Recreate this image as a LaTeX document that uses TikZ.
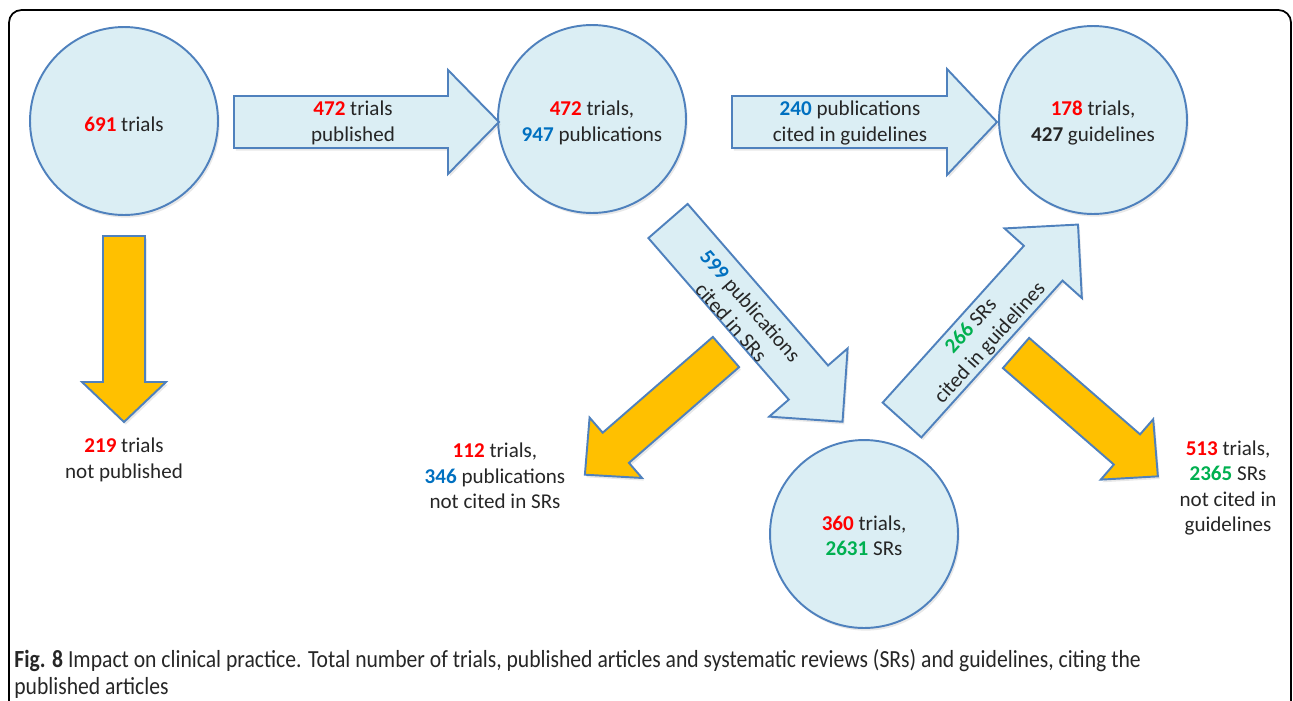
\documentclass[tikz,border=0pt]{standalone}
\usepackage{fontspec}
\setmainfont{Carlito}
\newfontfamily\capfont[FakeStretch=0.88]{Carlito}
\usetikzlibrary{shadows}

\definecolor{paleblue}{HTML}{DBEEF4}
\definecolor{edgeblue}{HTML}{4F81BD}
\definecolor{amber}{HTML}{FFC000}
\definecolor{numred}{HTML}{FF0000}
\definecolor{numblue}{HTML}{0070C0}
\definecolor{numgreen}{HTML}{00B050}

\newcommand{\nred}[1]{\textcolor{numred}{\textbf{#1}}}
\newcommand{\nblue}[1]{\textcolor{numblue}{\textbf{#1}}}
\newcommand{\ngreen}[1]{\textcolor{numgreen}{\textbf{#1}}}

% block arrow: style, tail, angle, length, half shaft, half head, head length
\newcommand{\blockarrow}[7]{%
  \begin{scope}[shift={#2},rotate=#3]
    \draw[#1] (0,-#5) -- ({#4-#7},-#5) -- ({#4-#7},-#6) -- (#4,0)
      -- ({#4-#7},#6) -- ({#4-#7},#5) -- (0,#5) -- cycle;
  \end{scope}}

\tikzset{
  softshadow/.style={drop shadow={opacity=0.18,shadow xshift=1pt,shadow yshift=-1.5pt}},
  disc/.style={circle, draw=edgeblue, fill=paleblue, line width=1.1pt,
    minimum size=3.76cm, inner sep=0pt, softshadow},
  bluearrow/.style={draw=edgeblue, fill=paleblue, line width=1.1pt, line join=miter, softshadow},
  amberarrow/.style={draw=edgeblue, fill=amber, line width=1.1pt, line join=miter, softshadow},
  txt/.style={align=center, text=black!85, inner sep=0pt,
    font=\fontsize{12}{14.4}\selectfont},
}

\begin{document}
\begin{tikzpicture}[x=0.02cm,y=-0.02cm]
\useasboundingbox (0,0) rectangle (1293,700);
\draw[line width=1pt, rounded corners=0.25cm] (9,730) -- (9,10) -- (1291,10) -- (1291,730);

% the four stages
\node[disc] (trials) at (124,121) {};
\node[disc] (pubs) at (592,119) {};
\node[disc] (guides) at (1093,120) {};
\node[disc] (srs) at (864,534) {};

% arrow tails
\coordinate (t1) at (234,122);
\coordinate (t2) at (732,122);
\coordinate (t3) at (668,221);
\coordinate (t4) at (902,420);
\coordinate (y1) at (124,236);
\coordinate (y2) at (726,352);
\coordinate (y3) at (1016,353);

\blockarrow{bluearrow}{(t1)}{0}{265}{26}{52}{51}
\blockarrow{bluearrow}{(t2)}{0}{265}{26}{53}{50}
\blockarrow{bluearrow}{(t3)}{-49}{266}{26}{52}{52}
\blockarrow{bluearrow}{(t4)}{48}{263}{26}{52}{52}
\blockarrow{amberarrow}{(y1)}{-90}{186}{21}{42}{40}
\blockarrow{amberarrow}{(y2)}{-139}{187}{20}{40}{41}
\blockarrow{amberarrow}{(y3)}{-41}{188}{20}{40}{41}

% texts
\node[txt] (trialsT) at (124,124) {\nred{691} trials};
\node[txt] (pubsT) at (592,123) {\nred{472} trials,\\\nblue{947} publications};
\node[txt] (guidesT) at (1093,123) {\nred{178} trials,\\\textbf{427} guidelines};
\node[txt] (srsT) at (864,536) {\nred{360} trials,\\\ngreen{2631} SRs};

\node[txt] (pubd) at (353,123) {\nred{472} trials\\published};
\node[txt] (cited) at (850,123) {\nblue{240} publications\\cited in guidelines};
\node[txt, rotate=-49] (insr) at (741,314) {\nblue{599} publications\\cited in SRs};
\node[txt, rotate=48] (ingl) at (981,335) {\ngreen{266} SRs\\cited in guidelines};

\node[txt] (unpub) at (124,460) {\nred{219} trials\\not published};
\node[txt] (nosr) at (495,476) {\nred{112} trials,\\\nblue{346} publications\\not cited in SRs};
\node[txt] (nogl) at (1228,488) {\nred{513} trials,\\\ngreen{2365} SRs\\not cited in\\guidelines};

% caption
\node[anchor=west, align=left, text=black!85, inner sep=0pt,
  font=\capfont\fontsize{14}{15.9}\selectfont] (cap) at (14,674)
  {\textbf{Fig. 8} Impact on clinical practice. Total number of trials, published articles and systematic reviews (SRs) and guidelines, citing the\\published articles};
\end{tikzpicture}
\end{document}
